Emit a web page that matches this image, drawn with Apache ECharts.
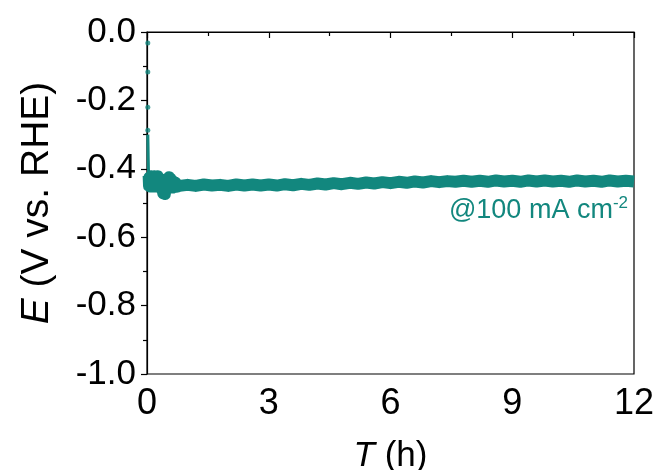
<!DOCTYPE html>
<html>
<head>
<meta charset="utf-8">
<script src="https://cdn.jsdelivr.net/npm/echarts@6/dist/echarts.min.js"></script>
<style>
html,body{margin:0;padding:0;background:#fff;}
#chart{width:661px;height:470px;}
</style>
</head>
<body>
<div id="chart"></div>
<script>
// Initial sparse points right after start
var startT = [0.02, 0.02, 0.02, 0.02];
var startE = [-0.032, -0.117, -0.22, -0.287];

// Initial fast drop (thin trace)
var dropT = [0.02, 0.025, 0.03, 0.035, 0.04];
var dropE = [-0.30, -0.33, -0.37, -0.40, -0.42];

// Early oscillating part (h, V)
var earlyT = [0.04, 0.05, 0.06, 0.08, 0.10, 0.12, 0.14, 0.16, 0.18, 0.20, 0.22, 0.24, 0.26, 0.28, 0.30, 0.32, 0.34, 0.36, 0.38, 0.40, 0.42, 0.44, 0.46, 0.48, 0.50, 0.52, 0.54, 0.56, 0.58, 0.60, 0.62, 0.65, 0.70, 0.75];
var earlyE = [-0.42, -0.45, -0.425, -0.452, -0.422, -0.45, -0.423, -0.452, -0.422, -0.45, -0.423, -0.452, -0.422, -0.45, -0.428, -0.455, -0.435, -0.46, -0.445, -0.472, -0.452, -0.474, -0.445, -0.46, -0.43, -0.455, -0.425, -0.452, -0.43, -0.455, -0.435, -0.455, -0.44, -0.452];

// Steady part (h, V)
var steadyT = [0.8, 1.0, 1.2, 1.4, 1.6, 1.8, 2.0, 2.2, 2.4, 2.6, 2.8, 3.0, 3.2, 3.4, 3.6, 3.8, 4.0, 4.2, 4.4, 4.6, 4.8, 5.0, 5.2, 5.4, 5.6, 5.8, 6.0, 6.2, 6.4, 6.6, 6.8, 7.0, 7.2, 7.4, 7.6, 7.8, 8.0, 8.2, 8.4, 8.6, 8.8, 9.0, 9.2, 9.4, 9.6, 9.8, 10.0, 10.2, 10.4, 10.6, 10.8, 11.0, 11.2, 11.4, 11.6, 11.8, 12.0];
var steadyE = [-0.450, -0.447, -0.450, -0.446, -0.449, -0.447, -0.450, -0.446, -0.449, -0.446, -0.449, -0.446, -0.449, -0.445, -0.448, -0.444, -0.447, -0.443, -0.446, -0.442, -0.445, -0.441, -0.444, -0.440, -0.443, -0.439, -0.442, -0.438, -0.441, -0.437, -0.440, -0.436, -0.439, -0.436, -0.438, -0.435, -0.438, -0.435, -0.438, -0.434, -0.437, -0.435, -0.438, -0.434, -0.437, -0.434, -0.437, -0.435, -0.438, -0.434, -0.437, -0.435, -0.438, -0.434, -0.437, -0.435, -0.437];

var xTicks = [0, 3, 6, 9, 12];
var yTicks = [-1.0, -0.8, -0.6, -0.4, -0.2, 0.0];

var teal = '#12877e';
var font = '"Liberation Sans", Arial, sans-serif';

function zip(a, b) { return a.map(function (v, i) { return [v, b[i]]; }); }
var lineData = zip(earlyT, earlyE).concat(zip(steadyT, steadyE));

var chart = echarts.init(document.getElementById('chart'), null, {renderer: 'canvas'});
chart.setOption({
  animation: false,
  backgroundColor: '#fff',
  grid: {left: 147, right: 27, top: 32, bottom: 96, containLabel: false, outerBoundsMode: 'none', show: true, borderColor: '#000', borderWidth: 1.2, backgroundColor: 'transparent'},
  xAxis: {
    type: 'value', min: xTicks[0], max: xTicks[xTicks.length - 1], interval: 3,
    name: '{i|T} (h)', nameLocation: 'middle', nameGap: 65,
    nameTextStyle: {fontFamily: font, fontSize: 35, color: '#000', rich: {i: {fontStyle: 'italic', fontFamily: font, fontSize: 35, color: '#000'}}},
    axisLine: {show: true, lineStyle: {color: '#000', width: 1.2}},
    axisTick: {show: true, inside: false, length: 6, lineStyle: {color: '#000', width: 1.2}},
    minorTick: {show: true, splitNumber: 2, length: 4, lineStyle: {color: '#000', width: 1.2}},
    splitLine: {show: false},
    axisLabel: {fontFamily: font, fontSize: 36, color: '#000', margin: 12}
  },
  yAxis: {
    type: 'value', min: yTicks[0], max: yTicks[yTicks.length - 1], interval: 0.2,
    name: '{i|E} (V vs. RHE)', nameLocation: 'middle', nameGap: 90,
    nameTextStyle: {fontFamily: font, fontSize: 39, color: '#000', rich: {i: {fontStyle: 'italic', fontFamily: font, fontSize: 39, color: '#000'}}},
    axisLine: {show: true, lineStyle: {color: '#000', width: 1.2}},
    axisTick: {show: true, inside: false, length: 6, lineStyle: {color: '#000', width: 1.2}},
    minorTick: {show: true, splitNumber: 2, length: 4, lineStyle: {color: '#000', width: 1.2}},
    splitLine: {show: false},
    axisLabel: {fontFamily: font, fontSize: 35, color: '#000', margin: 11, formatter: function (v) { return v.toFixed(1); }}
  },
  series: [
    {
      type: 'line', data: zip(dropT, dropE), showSymbol: false, symbol: 'none',
      lineStyle: {color: teal, width: 3}
    },
    {
      type: 'line', data: lineData, showSymbol: false, symbol: 'none',
      lineStyle: {color: teal, width: 12, join: 'round'}
    },
    {
      type: 'scatter', data: zip(startT, startE), symbolSize: 5,
      itemStyle: {color: teal}
    }
  ],
  graphic: [{
    type: 'text', right: 33, top: 195,
    style: {
      text: '{a|@100 mA cm}{s|-2}',
      rich: {
        a: {fontFamily: font, fontSize: 27, fill: teal, color: teal},
        s: {fontFamily: font, fontSize: 17, fill: teal, color: teal, padding: [0, 0, 15, 0]}
      }
    }
  }]
});
</script>
</body>
</html>
